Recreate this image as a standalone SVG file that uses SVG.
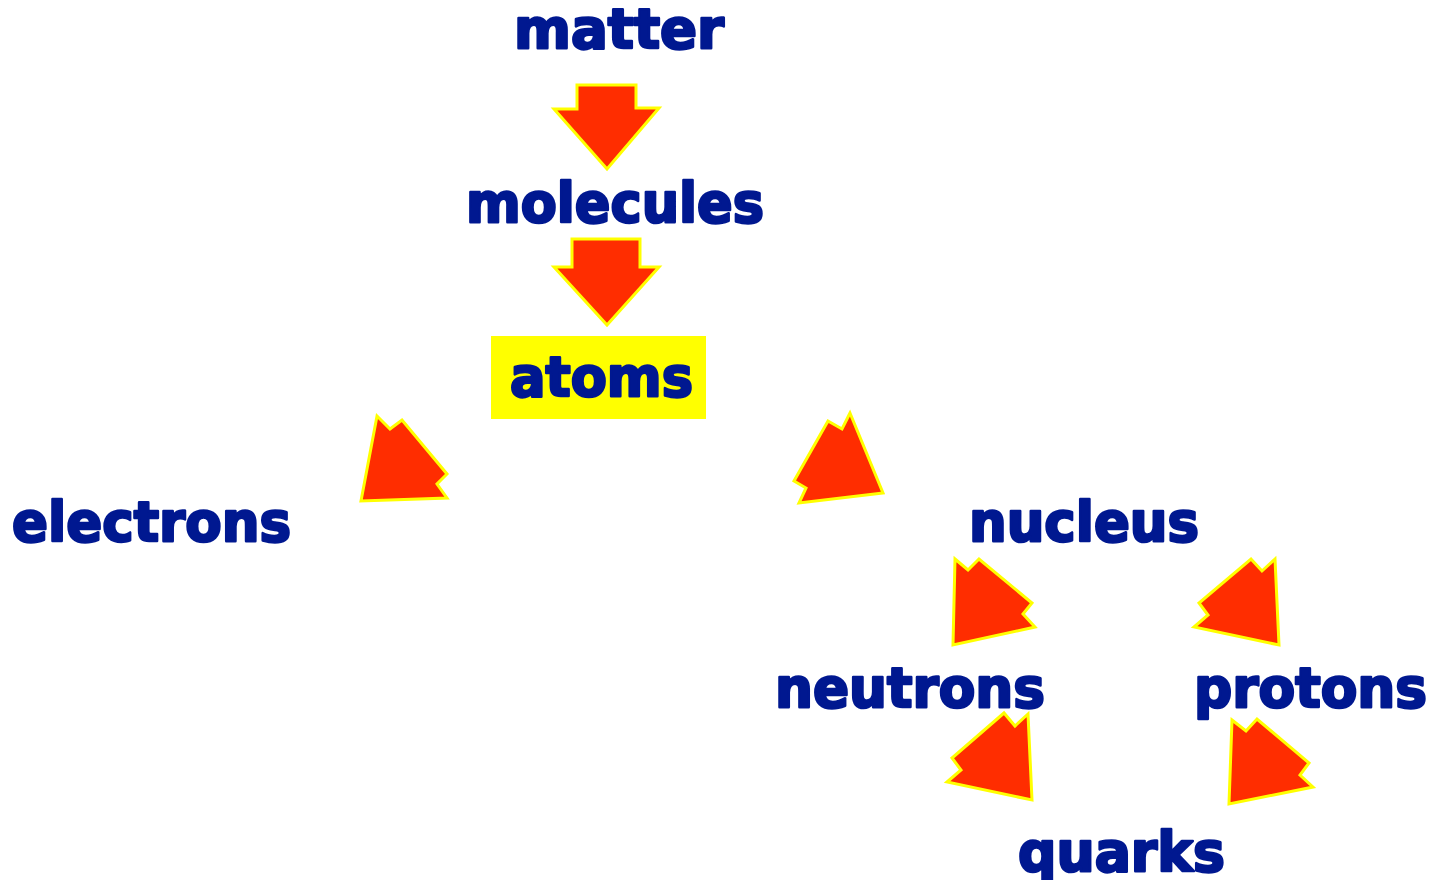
<svg xmlns="http://www.w3.org/2000/svg" width="1444" height="880" viewBox="0 0 1444 880">
<style>
.lbl{font-family:"DejaVu Sans","Liberation Sans",sans-serif;font-weight:bold;font-size:55px;fill:#001890;stroke:#001890;stroke-width:2.6;stroke-linejoin:round}
.arr{fill:#FF2D00;stroke:#FFFF00;stroke-width:3;stroke-linejoin:miter}
</style>
<rect width="1444" height="880" fill="#ffffff"/>
<g id="connectors">
<polygon class="arr" points="577,85 636,85 636,108 659,108 607,169 554,109 577,109"/>
<polygon class="arr" points="572,239 640,239 640,267 659,267 607,325 554,267 572,267"/>
<polygon class="arr" points="377,416 390,429 402,420 447,474 437,484 447,498 361,501"/>
<polygon class="arr" points="850,413 842,429 828,421 794,481 806,488 799,503 883,493"/>
<polygon class="arr" points="955,559 968,570 979,559 1032,603 1023,614 1035,627 953,645"/>
<polygon class="arr" points="1275,559 1262,571 1251,559 1199,603 1208,615 1194,627 1279,645"/>
<polygon class="arr" points="1028,714 1015,726 1004,713 952,758 961,770 947,782 1032,800"/>
<polygon class="arr" points="1232,720 1246,731 1257,719 1309,763 1300,775 1313,787 1229,804"/>
</g>
<g id="matter"><text class="lbl" x="514" y="48" textLength="210" lengthAdjust="spacingAndGlyphs">matter</text></g>
<g id="molecules"><text class="lbl" x="466" y="222" textLength="298" lengthAdjust="spacingAndGlyphs">molecules</text></g>
<g id="atoms"><rect x="491" y="336" width="215" height="83" fill="#FFFF00"/><text class="lbl" x="510" y="396" textLength="183" lengthAdjust="spacingAndGlyphs">atoms</text></g>
<g id="electrons"><text class="lbl" x="12" y="541" textLength="279" lengthAdjust="spacingAndGlyphs">electrons</text></g>
<g id="nucleus"><text class="lbl" x="969" y="541" textLength="230" lengthAdjust="spacingAndGlyphs">nucleus</text></g>
<g id="neutrons"><text class="lbl" x="775" y="707" textLength="270" lengthAdjust="spacingAndGlyphs">neutrons</text></g>
<g id="protons"><text class="lbl" x="1194" y="707" textLength="233" lengthAdjust="spacingAndGlyphs">protons</text></g>
<g id="quarks"><text class="lbl" x="1018" y="871" textLength="207" lengthAdjust="spacingAndGlyphs">quarks</text></g>
</svg>
